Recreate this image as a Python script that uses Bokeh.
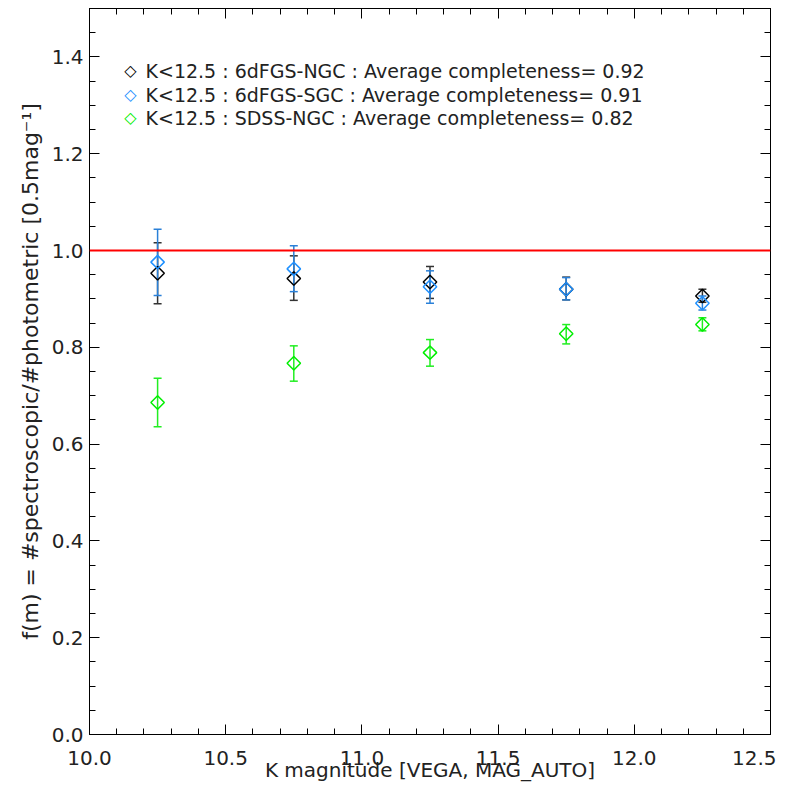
import numpy as np
from bokeh.plotting import figure
from bokeh.models import (ColumnDataSource, Whisker, TeeHead, Span, Label,
                          LinearAxis, FixedTicker, PrintfTickFormatter, Range1d)
from bokeh.embed import file_html
from bokeh.resources import INLINE

# ---- data ----
kmag = [10.25, 10.75, 11.25, 11.75, 12.25]

ngc6df_val = [0.953, 0.942, 0.935, 0.920, 0.906]
ngc6df_lo = [0.890, 0.897, 0.901, 0.898, 0.893]
ngc6df_hi = [1.016, 0.989, 0.967, 0.945, 0.920]

sgc6df_val = [0.976, 0.962, 0.925, 0.920, 0.891]
sgc6df_lo = [0.907, 0.915, 0.891, 0.898, 0.877]
sgc6df_hi = [1.044, 1.010, 0.958, 0.944, 0.906]

sdss_val = [0.686, 0.767, 0.789, 0.828, 0.847]
sdss_lo = [0.636, 0.730, 0.761, 0.807, 0.834]
sdss_hi = [0.736, 0.803, 0.816, 0.847, 0.861]

labels = [
    "K<12.5 : 6dFGS-NGC : Average completeness= 0.92",
    "K<12.5 : 6dFGS-SGC : Average completeness= 0.91",
    "K<12.5 : SDSS-NGC : Average completeness= 0.82",
]
reference_level = 1.0
x_ticks = [10.0, 10.5, 11.0, 11.5, 12.0, 12.5]
y_ticks = [0.0, 0.2, 0.4, 0.6, 0.8, 1.0, 1.2, 1.4]
x_minor = list(np.round(np.arange(10.0, 12.501, 0.1), 2))
y_minor = list(np.round(np.arange(0.0, 1.501, 0.05), 3))

FONT = "DejaVu Sans"
TXT = "#222222"

p = figure(frame_width=681, frame_height=726, min_border_left=89, min_border_top=8,
           min_border_right=6, min_border_bottom=5,
           x_range=Range1d(10.0, 12.5), y_range=Range1d(0.0, 1.5),
           output_backend="svg", toolbar_location=None)
p.grid.visible = False
p.outline_line_color = "black"
p.outline_line_width = 1
p.background_fill_color = "white"
p.border_fill_color = "white"

# axes
xa = p.xaxis[0]
ya = p.yaxis[0]
xa.ticker = FixedTicker(ticks=x_ticks, minor_ticks=x_minor)
ya.ticker = FixedTicker(ticks=y_ticks, minor_ticks=y_minor)
xa.formatter = PrintfTickFormatter(format="%.1f")
ya.formatter = PrintfTickFormatter(format="%.1f")
xa.axis_label = "K magnitude [VEGA, MAG_AUTO]"
ya.axis_label = "f(m) = #spectroscopic/#photometric [0.5mag\u207b\u00b9]"
for ax in (xa, ya):
    ax.major_tick_in = 10
    ax.major_tick_out = 0
    ax.minor_tick_in = 6
    ax.minor_tick_out = 0
    ax.axis_line_color = "black"
    ax.major_tick_line_color = "black"
    ax.minor_tick_line_color = "black"
    ax.major_label_text_font = FONT
    ax.major_label_text_font_size = "20px"
    ax.major_label_text_color = TXT
    ax.axis_label_text_font = FONT
    ax.axis_label_text_font_style = "normal"
    ax.axis_label_text_color = TXT
xa.axis_label_text_font_size = "20px"
ya.axis_label_text_font_size = "22px"
xa.major_label_standoff = 16
xa.axis_label_standoff = -10
ya.major_label_standoff = 6
ya.axis_label_standoff = 6

# mirrored tick marks on the top and right edges (no labels)
for loc, majors, minors in (("above", x_ticks, x_minor), ("right", y_ticks, y_minor)):
    for pos, length in ((majors, 10), (minors, 6)):
        ax = LinearAxis(ticker=FixedTicker(ticks=[], minor_ticks=pos))
        ax.major_tick_in = 0
        ax.major_tick_out = 0
        ax.minor_tick_in = length
        ax.minor_tick_out = 0
        ax.major_label_standoff = 0
        ax.axis_line_color = "black"
        ax.minor_tick_line_color = "black"
        p.add_layout(ax, loc)

# reference line
p.add_layout(Span(location=reference_level, dimension="width", line_color="red", line_width=2))

series = [
    (ngc6df_val, ngc6df_lo, ngc6df_hi, "black", "#333333"),
    (sgc6df_val, sgc6df_lo, sgc6df_hi, "#1E90FF", "#2A80D8"),
    (sdss_val, sdss_lo, sdss_hi, "#00EE00", "#22EE22"),
]
row_y = [664, 640, 617]   # legend rows, screen px from frame bottom
for (val, lo, hi, mcol, ecol), lab, ry in zip(series, labels, row_y):
    src = ColumnDataSource(dict(x=kmag, y=val, lo=lo, hi=hi))
    w = Whisker(base="x", upper="hi", lower="lo", source=src, line_color=ecol, line_width=1.5,
                upper_head=TeeHead(size=8, line_color=ecol, line_width=1.5),
                lower_head=TeeHead(size=8, line_color=ecol, line_width=1.5))
    p.add_layout(w)
    p.scatter("x", "y", source=src, marker="square", angle=np.pi / 4, size=9.5,
              fill_color=None, line_color=mcol, line_width=1.5)
    # legend entry: diamond symbol + label text
    p.add_layout(Label(x=41, y=ry, x_units="screen", y_units="screen", text="\u25c7",
                       text_color=mcol, text_font=FONT, text_font_size="16px",
                       text_align="center", text_baseline="middle"))
    p.add_layout(Label(x=56, y=ry, x_units="screen", y_units="screen", text=lab,
                       text_color=TXT, text_font=FONT, text_font_size="19px",
                       text_align="left", text_baseline="middle"))

open("out.html", "w").write(file_html(p, INLINE))
